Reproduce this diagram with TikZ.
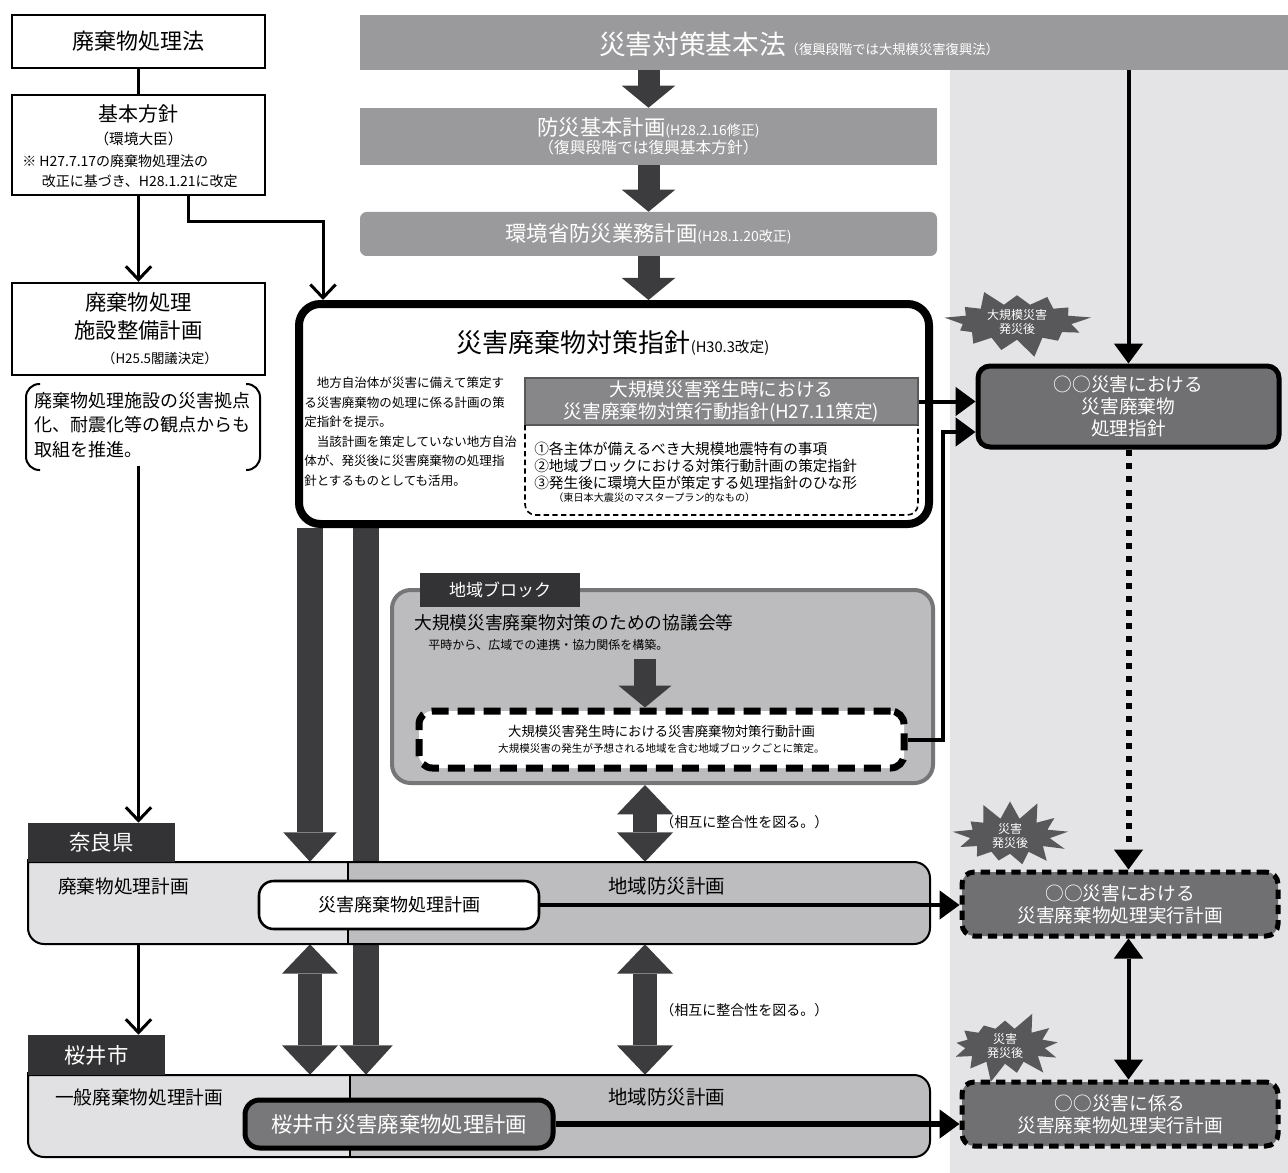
\documentclass[tikz,border=0pt]{standalone}
\usepackage{fontspec}
\setmainfont{Noto Sans CJK JP}
\usepackage{tikz}
\usetikzlibrary{arrows.meta,shapes.symbols,calc,backgrounds}

\definecolor{plangrey}{HTML}{9A9A9C}
\definecolor{panelback}{HTML}{E4E4E6}
\definecolor{actgrey}{HTML}{87878A}
\definecolor{plandark}{HTML}{707072}
\definecolor{arrowdark}{HTML}{3C3C3E}
\definecolor{tabdark}{HTML}{333335}
\definecolor{bandlight}{HTML}{E1E1E3}
\definecolor{bandmid}{HTML}{BDBDBF}
\definecolor{blockfill}{HTML}{BCBCBE}
\definecolor{blockedge}{HTML}{767678}
\definecolor{burstgrey}{HTML}{58585A}
\definecolor{cityplan}{HTML}{78787A}

\tikzset{
  lawbox/.style={draw, line width=1.8pt, fill=white, minimum width=189.75pt, inner sep=0pt},
  greybox/.style={fill=plangrey, text=white, inner sep=0pt, align=center},
  darkplan/.style={draw, fill=plandark, text=white, line width=3.75pt, rounded corners=9pt, align=center, inner sep=0pt, font=\fontsize{14}{16.5}\selectfont},
  tabbox/.style={fill=tabdark, text=white, inner sep=0pt, font=\fontsize{16}{19}\selectfont},
  burst/.style={starburst, fill=burstgrey, text=white, align=center, font=\fontsize{9}{10.5}\selectfont, inner sep=0pt, starburst points=13, starburst point height=15pt},
  bandedge/.style={line width=1.5pt},
  blockarrow/.style={draw=arrowdark, line width=16.5pt, -{Triangle[width=40pt,length=16.5pt,line width=0pt]}},
  bararrow/.style={draw=arrowdark, line width=19pt, -{Triangle[width=40pt,length=22pt,line width=0pt]}},
  dblockarrow/.style={draw=arrowdark, line width=18pt, {Triangle[width=42pt,length=22pt,line width=0pt]}-{Triangle[width=42pt,length=22pt,line width=0pt]}},
  thinline/.style={line width=2.25pt},
  thinarrow/.style={line width=2.25pt, -{Straight Barb[width=19pt,length=10pt]}},
  blackarrow/.style={line width=3pt, -{Triangle[width=22pt,length=15pt,line width=0pt]}},
  dotarrow/.style={line width=4.5pt, dash pattern=on 4.5pt off 5.5pt, -{Triangle[width=22pt,length=15pt,line width=0pt]}}
}

\begin{document}
\begin{tikzpicture}[x=0.75pt,y=0.75pt,yscale=-1,xscale=1]
\path[use as bounding box] (0,0) rectangle (1288,1173);
\begin{scope}[on background layer]
\fill[white] (0,0) rectangle (1288,1173);
%Shape: right panel
\fill[panelback] (950,70) rectangle (1288,1173);
\end{scope}

%Shape: left column boxes
\node[lawbox, minimum height=39.75pt, font=\fontsize{16.5}{20}\selectfont] (law) at (138.5,41.5) {廃棄物処理法};
\node[lawbox, minimum height=75pt] (policy) at (138.5,145) {};
% Text Node
\node[font=\fontsize{15}{18}\selectfont] (policyname) at (138.5,114) {基本方針};
\node[font=\fontsize{11}{13}\selectfont] (minister) at (138.5,139) {（環境大臣）};
\node[font=\fontsize{10.5}{15}\selectfont, align=left, anchor=north west, inner sep=0pt] (policynote) at (22,154) {※ H27.7.17の廃棄物処理法の\\\hspace*{1.4em}改正に基づき、H28.1.21に改定};

\node[lawbox, minimum height=69pt] (facility) at (138.5,329) {};
% Text Node
\node[font=\fontsize{16}{21}\selectfont, align=center] (facilityname) at (138.5,316) {廃棄物処理\\施設整備計画};
\node[font=\fontsize{10}{12}\selectfont] (cabinet) at (160,358) {（H25.5閣議決定）};
\node[font=\fontsize{13.5}{18.4}\selectfont, align=left, anchor=north west, inner sep=0pt] (promo) at (34,392) {廃棄物処理施設の災害拠点\\化、耐震化等の観点からも\\取組を推進。};
%Shape: brackets
\draw[line width=1.5pt, rounded corners=10pt] (40,384) -- (26,384) -- (26,470) -- (40,470);
\draw[line width=1.5pt, rounded corners=10pt] (246,384) -- (260,384) -- (260,470) -- (246,470);

%Straight Lines
\draw[thinline] (law) -- (policy);
\draw[thinarrow] (policy) -- (facility);

%Shape: national plans
\node[greybox, minimum width=696pt, minimum height=41.25pt] (banner) at (824,42.5) {};
\node[text=white, font=\fontsize{20}{24}\selectfont] (bannertext) at (799,44) {災害対策基本法{\fontsize{10}{12}\selectfont （復興段階では大規模災害復興法）}};
\node[greybox, minimum width=432.75pt, minimum height=42.75pt] (bousai) at (648.5,136.5) {{\fontsize{16}{19}\selectfont 防災基本計画}{\fontsize{10.5}{12}\selectfont (H28.2.16修正)}\\{\fontsize{11.8}{14}\selectfont （復興段階では復興基本方針）}};
\node[greybox, rounded corners=5pt, minimum width=432.75pt, minimum height=33pt, font=\fontsize{16}{19}\selectfont] (kankyo) at (648.5,234) {環境省防災業務計画{\fontsize{10.5}{12}\selectfont (H28.1.20改正)}};

\draw[blockarrow] (bousai.north |- banner.south) -- (bousai.north);
\draw[blockarrow] (bousai) -- (kankyo);

%Shape: guideline
\node[draw, line width=6pt, rounded corners=16pt, fill=white, minimum width=472.5pt, minimum height=165pt] (guideline) at (614,414) {};
\draw[blockarrow] (kankyo.south) -- (kankyo.south |- guideline.north);
\draw[thinarrow] ($(policy.south)+(49.5,0)$) -- ++(0,25) -| ($(guideline.north west)+(28,0)$);
% Text Node
\node[font=\fontsize{19.5}{23}\selectfont] (gtitle) at (613,343) {災害廃棄物対策指針{\fontsize{11}{13}\selectfont (H30.3改定)}};
\node[font=\fontsize{9.4}{14.6}\selectfont, align=left, anchor=north west, inner sep=0pt] (gnote) at (304,377) {　地方自治体が災害に備えて策定す\\る災害廃棄物の処理に係る計画の策\\定指針を提示。\\　当該計画を策定していない地方自治\\体が、発災後に災害廃棄物の処理指\\針とするものとしても活用。};
\node[fill=actgrey, draw=black!65, line width=1.5pt, text=white, align=center, font=\fontsize{14}{16.5}\selectfont, minimum width=294.75pt, minimum height=35.25pt, inner sep=0pt] (actguide) at (721.5,401.5) {大規模災害発生時における\\災害廃棄物対策行動指針(H27.11策定)};
\draw[line width=1.2pt, dash pattern=on 4pt off 2.5pt] (525,425) [rounded corners=8pt] -- (525,515) -- (918,515) -- (918,425);
\node[font=\fontsize{11}{12.75}\selectfont, align=left, anchor=north west, inner sep=0pt] (actlist) at (534,442) {①各主体が備えるべき大規模地震特有の事項\\②地域ブロックにおける対策行動計画の策定指針\\③発生後に環境大臣が策定する処理指針のひな形};
\node[font=\fontsize{7.6}{9}\selectfont, anchor=north west, inner sep=0pt] (actnote) at (553,493) {（東日本大震災のマスタープラン的なもの）};

%Shape: disaster guideline (right)
\node[burst, minimum width=112pt, minimum height=56pt, random starburst=9] (burst1) at (1017,322) {大規模災害\\発災後};
\node[darkplan, minimum width=225.75pt, minimum height=60.75pt] (rguide) at (1128.5,406.5) {○○災害における\\災害廃棄物\\処理指針};
\draw[blackarrow] (rguide.north |- banner.south) -- (rguide.north);
\draw[blackarrow] (actguide.east) -- (actguide.east -| rguide.west);

%Shape: regional block
\node[draw=blockedge, line width=3pt, fill=blockfill, rounded corners=14pt, minimum width=405.75pt, minimum height=144.75pt, inner sep=0pt] (block) at (662.5,686.5) {};
\node[tabbox, minimum width=120pt, minimum height=25.5pt, font=\fontsize{12.75}{15}\selectfont] (blocktab) at (500,590) {地域ブロック};
% Text Node
\node[anchor=west, inner sep=0pt, font=\fontsize{13.3}{16}\selectfont] (council) at (414,623) {大規模災害廃棄物対策のための協議会等};
\node[anchor=west, inner sep=0pt, font=\fontsize{9}{11}\selectfont] (coop) at (428,645) {平時から、広域での連携・協力関係を構築。};
\node[draw, line width=5.25pt, dash pattern=on 12.75pt off 6.75pt, rounded corners=10pt, fill=white, minimum width=363.75pt, minimum height=42.75pt, inner sep=0pt, align=center] (bplan) at (661.5,739.5) {{\fontsize{10}{14}\selectfont 大規模災害発生時における災害廃棄物対策行動計画}\\{\fontsize{7.9}{10}\selectfont 大規模災害の発生が予想される地域を含む地域ブロックごとに策定。}};

\coordinate (midx) at (645,0);
\draw[blockarrow] ($(midx |- coop.south)+(0,8)$) -- (midx |- bplan.north);
\coordinate (loopx) at (943,432);
\draw[blackarrow] (bplan.east) -| (loopx) -- (loopx -| rguide.west);

%Shape: band frames
\node[minimum width=676.5pt, minimum height=61.5pt, inner sep=0pt] (narab) at (479,903) {};
\node[minimum width=676.5pt, minimum height=61.5pt, inner sep=0pt] (sakab) at (479,1116) {};

\coordinate (barl) at (310,0);
\coordinate (barr) at (366,0);
\begin{scope}[on background layer]
\draw[bararrow] (barl |- guideline.south) -- (barl |- narab.north);
\draw[bararrow, line width=20pt] (barr |- guideline.south) -- (barr |- sakab.north);
\draw[dblockarrow] (barl |- narab.south) -- (barl |- sakab.north);
\end{scope}

%Shape: Nara band
\fill[bandmid] (300,862) [rounded corners=12pt] -- (930,862) -- (930,944) -- (28,944) -- (28,875) [sharp corners] -- (28,862) -- cycle;
\fill[bandlight] (200,944) [rounded corners=12pt] -- (28,944) -- (28,875) [sharp corners] -- (28,862) -- (348,862) -- (348,944) -- cycle;
\draw[bandedge] (348,862) -- (348,944);
\draw[bandedge] (300,862) [rounded corners=12pt] -- (930,862) -- (930,944) -- (28,944) -- (28,875) [sharp corners] -- (28,862) -- cycle;
\node[tabbox, minimum width=110.25pt, minimum height=29.25pt] (naratab) at (101.5,842.5) {奈良県};
% Text Node
\node[anchor=west, inner sep=0pt, font=\fontsize{14}{17}\selectfont] (narawaste) at (58,886) {廃棄物処理計画};
\node[anchor=west, inner sep=0pt, font=\fontsize{14.6}{17}\selectfont] (narabousai) at (608,886) {地域防災計画};
\node[draw, line width=1.9pt, rounded corners=11pt, fill=white, minimum width=210pt, minimum height=36pt, inner sep=0pt, font=\fontsize{13.5}{16}\selectfont] (naraplan) at (399,905) {災害廃棄物処理計画};

%Shape: Sakurai band
\fill[bandmid] (300,1075) [rounded corners=12pt] -- (930,1075) -- (930,1157) -- (28,1157) -- (28,1088) [sharp corners] -- (28,1075) -- cycle;
\fill[bandlight] (200,1157) [rounded corners=12pt] -- (28,1157) -- (28,1088) [sharp corners] -- (28,1075) -- (350,1075) -- (350,1157) -- cycle;
\draw[bandedge] (350,1075) -- (350,1157);
\draw[bandedge] (300,1075) [rounded corners=12pt] -- (930,1075) -- (930,1157) -- (28,1157) -- (28,1088) [sharp corners] -- (28,1075) -- cycle;
\node[tabbox, minimum width=102.75pt, minimum height=30pt] (sakutab) at (96.5,1055) {桜井市};
% Text Node
\node[anchor=west, inner sep=0pt, font=\fontsize{14}{17}\selectfont] (sakuwaste) at (55,1097) {一般廃棄物処理計画};
\node[anchor=west, inner sep=0pt, font=\fontsize{14.6}{17}\selectfont] (sakubousai) at (608,1097) {地域防災計画};
\node[draw, line width=3.75pt, rounded corners=11pt, fill=cityplan, text=white, minimum width=231pt, minimum height=36pt, inner sep=0pt, font=\fontsize{16}{19}\selectfont] (sakplan) at (399,1124) {桜井市災害廃棄物処理計画};

%Straight Lines: mutual consistency
\draw[dblockarrow] (midx |- block.south) -- (midx |- narab.north);
\node[anchor=west, inner sep=0pt, font=\fontsize{10.5}{12}\selectfont] (sync1) at (660,822) {（相互に整合性を図る。）};
\draw[dblockarrow] (midx |- narab.south) -- (midx |- sakab.north);
\node[anchor=west, inner sep=0pt, font=\fontsize{10.5}{12}\selectfont] (sync2) at (660,1010) {（相互に整合性を図る。）};

%Shape: execution plans (right)
\node[burst, minimum width=90pt, minimum height=48pt, random starburst=4] (burst2) at (1010,836) {災害\\発災後};
\node[darkplan, dash pattern=on 7pt off 4.5pt, minimum width=237pt, minimum height=48pt] (rexec1) at (1120,904) {○○災害における\\災害廃棄物処理実行計画};
\node[burst, minimum width=90pt, minimum height=50pt, random starburst=6] (burst3) at (1005,1046) {災害\\発災後};
\node[darkplan, dash pattern=on 7pt off 4.5pt, minimum width=237pt, minimum height=48pt] (rexec2) at (1120,1114) {○○災害に係る\\災害廃棄物処理実行計画};

\draw[dotarrow] (rguide.south) -- (rguide.south |- rexec1.north);
\draw[blackarrow, {Triangle[width=22pt,length=15pt,line width=0pt]}-{Triangle[width=22pt,length=15pt,line width=0pt]}] (rguide.south |- rexec1.south) -- (rguide.south |- rexec2.north);
\draw[blackarrow] (naraplan.east) -- (naraplan.east -| rexec1.west);
\draw[blackarrow, line width=4.5pt] (sakplan.east) -- (sakplan.east -| rexec2.west);

%Straight Lines: left column to bands
\draw[thinarrow] ($(facility.south |- promo.south)+(0,8)$) -- (facility.south |- naratab.north);
\draw[thinarrow] (facility.south |- narab.south) -- (facility.south |- sakutab.north);

\end{tikzpicture}
\end{document}
